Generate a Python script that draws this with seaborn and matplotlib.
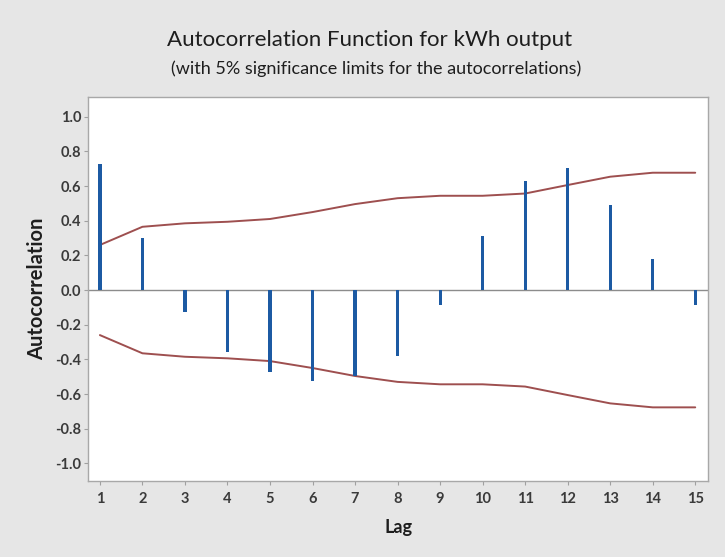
import numpy as np
import pandas as pd
import matplotlib
matplotlib.use("Agg")
import matplotlib.pyplot as plt
import seaborn as sns

# Autocorrelation estimates by lag, with 5% significance limits
lags = [1, 2, 3, 4, 5, 6, 7, 8, 9, 10, 11, 12, 13, 14, 15]
acf = [0.73, 0.30, -0.125, -0.36, -0.475, -0.523, -0.496, -0.38,
       -0.087, 0.31, 0.63, 0.705, 0.49, 0.177, -0.087]
limit = [0.26, 0.365, 0.385, 0.394, 0.41, 0.45, 0.496, 0.53,
         0.544, 0.544, 0.557, 0.606, 0.654, 0.677, 0.677]
y_ticks = [-1.0, -0.8, -0.6, -0.4, -0.2, 0.0, 0.2, 0.4, 0.6, 0.8, 1.0]

title = "Autocorrelation Function for kWh output"
subtitle = "(with 5% significance limits for the autocorrelations)"

sns.set_theme(style="white")
plt.rcParams["font.family"] = ["Lato", "DejaVu Sans"]
plt.rcParams["axes.unicode_minus"] = False

df = pd.DataFrame({"lag": lags, "acf": acf, "upper": limit,
                   "lower": [-v for v in limit]})

bg = "#e6e6e6"
fig = plt.figure(figsize=(7.25, 5.57), dpi=100, facecolor=bg)
ax = fig.add_axes([88 / 725, 1 - 481 / 557, 620 / 725, 384 / 557])
ax.set_facecolor("white")

# zero reference line
ax.axhline(0, color="#8c8c8c", lw=1.0, zorder=1)

# significance limits
line_color = "#9e4f4f"
sns.lineplot(data=df, x="lag", y="upper", ax=ax, color=line_color, lw=1.4, zorder=2)
sns.lineplot(data=df, x="lag", y="lower", ax=ax, color=line_color, lw=1.4, zorder=2)

# autocorrelation spikes
sns.barplot(data=df, x="lag", y="acf", ax=ax, native_scale=True, width=0.075,
            color="#1c5aa3", saturation=1, linewidth=0, zorder=3)

ax.set_xlim(0.72, 15.3)
ax.set_ylim(-1.102, 1.114)
ax.set_xticks(lags)
ax.set_xticklabels([str(v) for v in lags])
ax.set_yticks(y_ticks)
ax.set_yticklabels([f"{v:.1f}" for v in y_ticks])
ax.set_xlabel("")
ax.set_ylabel("")

for s in ax.spines.values():
    s.set_color("#a8a8a8")
    s.set_linewidth(1.0)

ax.tick_params(axis="both", which="major", length=3, width=0.8, color="#a0a0a0",
               labelsize=10.5, labelcolor="#3a3a3a", bottom=True, left=True)
ax.tick_params(axis="y", pad=2)
ax.tick_params(axis="x", pad=5)
for lab in ax.get_xticklabels() + ax.get_yticklabels():
    lab.set_fontweight("bold")

fig.text(370 / 725, 1 - 40 / 557, title, ha="center", va="center",
         fontsize=16, color="#1e1e1e")
fig.text(376 / 725, 1 - 69 / 557, subtitle, ha="center", va="center",
         fontsize=13, color="#1e1e1e")
fig.text(37 / 725, 1 - 289 / 557, "Autocorrelation", rotation=90, ha="center",
         va="center", fontsize=14.5, fontweight="bold", color="#1e1e1e")
fig.text(398 / 725, 1 - 527 / 557, "Lag", ha="center", va="center",
         fontsize=13, fontweight="bold", color="#1e1e1e")

fig.savefig("out.png", dpi=100, facecolor=bg)
